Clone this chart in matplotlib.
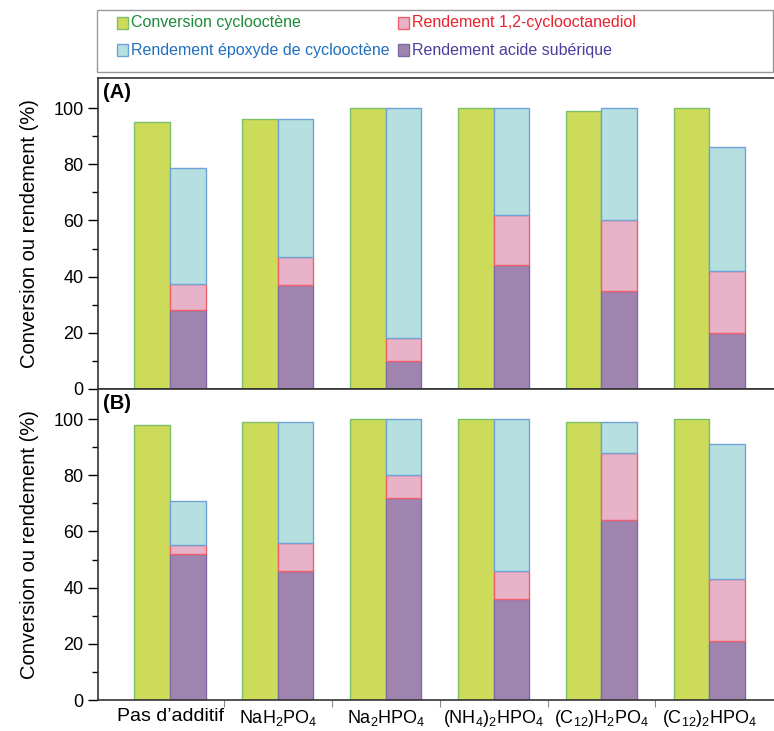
import numpy as np
import matplotlib
matplotlib.use("Agg")
import matplotlib.pyplot as plt
from matplotlib.patches import Rectangle

plt.rcParams['font.family'] = ['Liberation Sans', 'DejaVu Sans']
plt.rcParams['mathtext.fontset'] = 'custom'
plt.rcParams['mathtext.rm'] = 'Liberation Sans'

categories = ['Pas d\u2019additif', r'NaH$_2$PO$_4$', r'Na$_2$HPO$_4$',
              r'(NH$_4$)$_2$HPO$_4$', r'(C$_{12}$)H$_2$PO$_4$', r'(C$_{12}$)$_2$HPO$_4$']

# panel A
conv_A = [95, 96, 100, 100, 99, 100]
acide_A = [28, 37, 10, 44, 35, 20]
diol_A = [9.5, 10, 8, 18, 25, 22]
epox_A = [41, 49, 82, 38, 40, 44]

# panel B
conv_B = [98, 99, 100, 100, 99, 100]
acide_B = [52, 46, 72, 36, 64, 21]
diol_B = [3, 10, 8, 10, 24, 22]
epox_B = [16, 43, 20, 54, 11, 48]

labels = ['Conversion cyclooctène', 'Rendement 1,2-cyclooctanediol',
          'Rendement époxyde de cyclooctène', 'Rendement acide subérique']

c_conv, e_conv = '#cddb5b', '#7cc06a'
c_epox, e_epox = '#b6dfdf', '#6fa3d8'
c_diol, e_diol = '#e8b2c8', '#f0606a'
c_acid, e_acid = '#a084b0', '#7f6aa8'

fig = plt.figure(figsize=(7.74, 7.31), dpi=100)
axA = fig.add_axes([0.1266, 0.4679, 0.8734, 0.4254])
axB = fig.add_axes([0.1266, 0.0424, 0.8734, 0.4255])

x = np.arange(len(categories))
w = 0.33


def draw(ax, conv, acide, diol, epox, tag):
    conv = np.array(conv); acide = np.array(acide)
    diol = np.array(diol); epox = np.array(epox)
    ax.bar(x - w / 2, conv, w, color=c_conv, edgecolor=e_conv, linewidth=1)
    ax.bar(x + w / 2, acide, w, color=c_acid, edgecolor=e_acid, linewidth=1)
    ax.bar(x + w / 2, diol, w, bottom=acide, color=c_diol, edgecolor=e_diol, linewidth=1)
    ax.bar(x + w / 2, epox, w, bottom=acide + diol, color=c_epox, edgecolor=e_epox, linewidth=1)
    ax.set_xlim(-0.668, 5.6)
    ax.set_ylim(0, 110.7)
    ax.set_yticks([0, 20, 40, 60, 80, 100])
    ax.set_yticks([10, 30, 50, 70, 90], minor=True)
    ax.tick_params(axis='y', which='major', length=7, width=1, labelsize=13, direction='out')
    ax.tick_params(axis='y', which='minor', length=4, width=1, direction='out')
    ax.spines['right'].set_visible(False)
    for s in ['left', 'top', 'bottom']:
        ax.spines[s].set_linewidth(1.2)
        ax.spines[s].set_color('#333333')
    ax.set_ylabel('Conversion ou rendement (%)', fontsize=14.5, labelpad=10)
    ax.text(0.008, 0.985, tag, transform=ax.transAxes, fontsize=14.5,
            fontweight='bold', va='top', ha='left')


draw(axA, conv_A, acide_A, diol_A, epox_A, '(A)')
draw(axB, conv_B, acide_B, diol_B, epox_B, '(B)')

axA.set_xticks([])
axB.set_xticks(x)
axB.set_xticklabels(categories, fontsize=13)
axB.get_xticklabels()[0].set_fontsize(14)
axB.tick_params(axis='x', which='major', length=0, pad=6)
axB.set_xticks(x[:-1] + 0.5, minor=True)
axB.tick_params(axis='x', which='minor', length=5, width=0.8, color='#888888')

# legend box, drawn by hand to match the original layout
W, H = 774.0, 731.0
fig.patches.append(Rectangle((97 / W, 1 - 72 / H), 676 / W, 62 / H,
                             transform=fig.transFigure, facecolor='white',
                             edgecolor='#999999', linewidth=1))
leg_items = [(labels[0], c_conv, e_conv, '#1d8a3c', 117, 23),
             (labels[1], c_diol, e_diol, '#e8222c', 398, 23),
             (labels[2], c_epox, e_epox, '#2070c0', 117, 50),
             (labels[3], c_acid, e_acid, '#4b3f9e', 398, 50)]
for txt, fc, ec, tc, px, py in leg_items:
    fig.patches.append(Rectangle((px / W, 1 - (py + 5.5) / H), 11 / W, 11 / H,
                                 transform=fig.transFigure, facecolor=fc,
                                 edgecolor=ec, linewidth=1))
    fig.text((px + 14) / W, 1 - py / H, txt, color=tc, fontsize=11.5,
             va='center', ha='left')

fig.savefig('out.png', dpi=100)
